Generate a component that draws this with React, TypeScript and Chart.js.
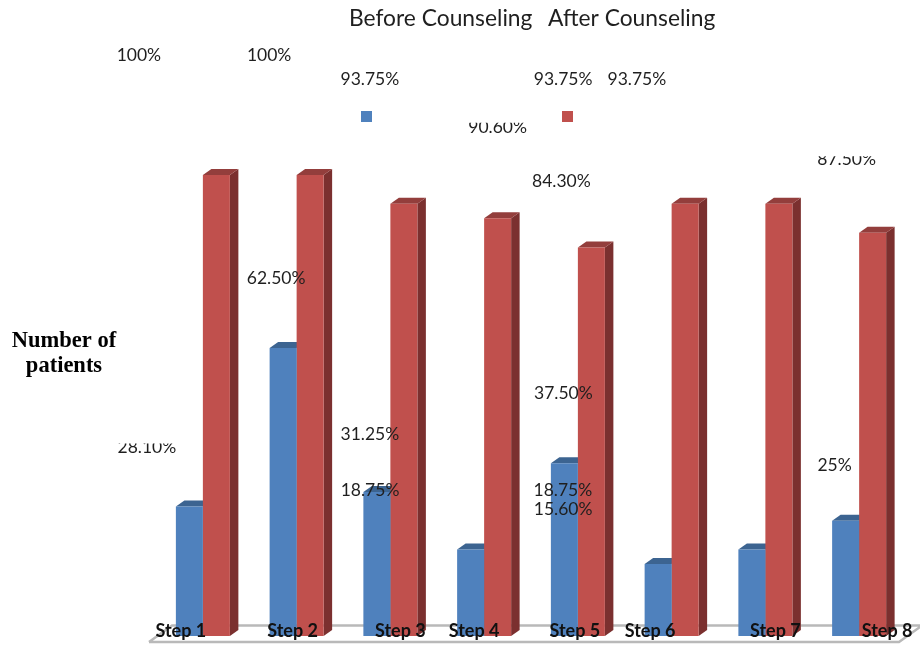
import React, { useEffect, useRef } from "react";
import { Chart, registerables } from "chart.js";

Chart.register(...registerables);

const steps = ["Step 1", "Step 2", "Step 3", "Step 4", "Step 5", "Step 6", "Step 7", "Step 8"];
const beforeCounseling = [28.1, 62.5, 31.25, 18.75, 37.5, 15.6, 18.75, 25];
const afterCounseling = [100, 100, 93.75, 90.6, 84.3, 93.75, 93.75, 87.5];

// Offsets of each value label from the top-centre of its bar.
const beforeLabelOffsets = [
  [-42.5, -59.7], [-7, -70.5], [-7, -59], [-100.6, -60],
  [-1, -70.5], [-95, -56], [-189, -60], [-11, -56],
];
const afterLabelOffsets = [
  [-77.5, -121], [-41, -121], [-34, -125], [0, -91.7],
  [-30, -67], [-122, -125], [-142, -125], [-26, -74],
];
// How far above its centre a label stays visible; null leaves it whole.
const beforeLabelCut = [4.3, null, null, null, null, null, null, null];
const afterLabelCut = [null, null, null, 4.8, null, null, null, 3.5];

// Horizontal shift of each step name from its category centre.
const stepLabelShift = [-22, -4, 10, -10, -3, -21.5, 10, 28];

const FONT = "Lato, 'Noto Sans', sans-serif";
const BLUE = "#4f81bd";
const RED = "#c0504d";
const DEPTH_X = 8.5;
const DEPTH_Y = 6;

const percentText = (v: number) => (Number.isInteger(v) ? `${v}%` : `${v.toFixed(2)}%`);

// Extruded faces and the floor, painted underneath the flat bar fronts.
const depthPlugin = {
  id: "depth",
  beforeDatasetsDraw(chart: any) {
    const { ctx } = chart;
    ctx.save();
    ctx.strokeStyle = "#b9b9b9";
    ctx.lineWidth = 2.5;
    ctx.beginPath();
    ctx.moveTo(149, 642);
    ctx.lineTo(172, 625.5);
    ctx.lineTo(920, 625.5);
    ctx.moveTo(149, 642);
    ctx.lineTo(899, 642);
    ctx.lineTo(920, 627);
    ctx.stroke();

    const faces = [
      { top: "#3c6491", side: "#345678" },
      { top: "#933e3c", side: "#7b302f" },
    ];
    chart.data.datasets.forEach((_: any, d: number) => {
      chart.getDatasetMeta(d).data.forEach((bar: any) => {
        const left = bar.x - bar.width / 2;
        const right = bar.x + bar.width / 2;
        ctx.fillStyle = faces[d].side;
        ctx.beginPath();
        ctx.moveTo(right, bar.y);
        ctx.lineTo(right + DEPTH_X, bar.y - DEPTH_Y);
        ctx.lineTo(right + DEPTH_X, bar.base - DEPTH_Y);
        ctx.lineTo(right, bar.base);
        ctx.closePath();
        ctx.fill();
        ctx.fillStyle = faces[d].top;
        ctx.beginPath();
        ctx.moveTo(left, bar.y);
        ctx.lineTo(left + DEPTH_X, bar.y - DEPTH_Y);
        ctx.lineTo(right + DEPTH_X, bar.y - DEPTH_Y);
        ctx.lineTo(right, bar.y);
        ctx.closePath();
        ctx.fill();
      });
    });
    ctx.restore();
  },
};

// Value labels, step names, the y caption and the split legend.
const annotationPlugin = {
  id: "annotations",
  afterDatasetsDraw(chart: any) {
    const { ctx, scales } = chart;
    ctx.save();
    ctx.textBaseline = "middle";
    ctx.textAlign = "center";
    ctx.fillStyle = "#1f1f1f";

    ctx.font = `17.5px ${FONT}`;
    const offsets = [beforeLabelOffsets, afterLabelOffsets];
    const cuts = [beforeLabelCut, afterLabelCut];
    chart.data.datasets.forEach((ds: any, d: number) => {
      chart.getDatasetMeta(d).data.forEach((bar: any, i: number) => {
        const x = bar.x + offsets[d][i][0];
        const y = bar.y + offsets[d][i][1] + 1;
        const cut = cuts[d][i];
        ctx.save();
        if (cut !== null) {
          ctx.beginPath();
          ctx.rect(x - 60, y - cut, 120, 40);
          ctx.clip();
        }
        ctx.fillText(percentText(ds.data[i]), x, y);
        ctx.restore();
      });
    });

    ctx.fillStyle = "#111111";
    ctx.font = `bold 18px ${FONT}`;
    steps.forEach((name, i) => {
      ctx.fillText(name, scales.x.getPixelForTick(i) + stepLabelShift[i], 631);
    });

    ctx.font = "bold 22.5px 'Liberation Serif', serif";
    ctx.fillStyle = "#000000";
    ctx.fillText("Number of", 64, 341);
    ctx.fillText("patients", 64, 366);

    ctx.font = `22.8px ${FONT}`;
    ctx.textAlign = "left";
    const legendText = [349, 548];
    const legendMark = [361, 562];
    chart.data.datasets.forEach((ds: any, d: number) => {
      ctx.fillStyle = "#1f1f1f";
      ctx.fillText(ds.label, legendText[d], 19);
      ctx.fillStyle = ds.backgroundColor;
      ctx.fillRect(legendMark[d], 111, 11, 11);
    });
    ctx.restore();
  },
};

export default function App() {
  const canvasRef = useRef<HTMLCanvasElement>(null);

  useEffect(() => {
    const chart = new Chart(canvasRef.current!, {
      type: "bar",
      data: {
        labels: steps,
        datasets: [
          { label: "Before Counseling", data: beforeCounseling, backgroundColor: BLUE },
          { label: "After Counseling", data: afterCounseling, backgroundColor: RED },
        ],
      },
      options: {
        responsive: false,
        animation: false,
        layout: { padding: { left: 156, right: 14, top: 175, bottom: 10 } },
        datasets: { bar: { categoryPercentage: 0.576, barPercentage: 1, borderWidth: 0 } },
        plugins: { legend: { display: false }, tooltip: { enabled: false }, title: { display: false } },
        scales: {
          x: { display: false },
          y: { display: false, min: 0, max: 100 },
        },
      },
      plugins: [depthPlugin, annotationPlugin],
    } as any);
    return () => chart.destroy();
  }, []);

  return (
    <div style={{ position: "fixed", left: 0, top: 0, width: 920, height: 646, background: "#ffffff" }}>
      <canvas ref={canvasRef} width={920} height={646} style={{ display: "block" }} />
    </div>
  );
}
